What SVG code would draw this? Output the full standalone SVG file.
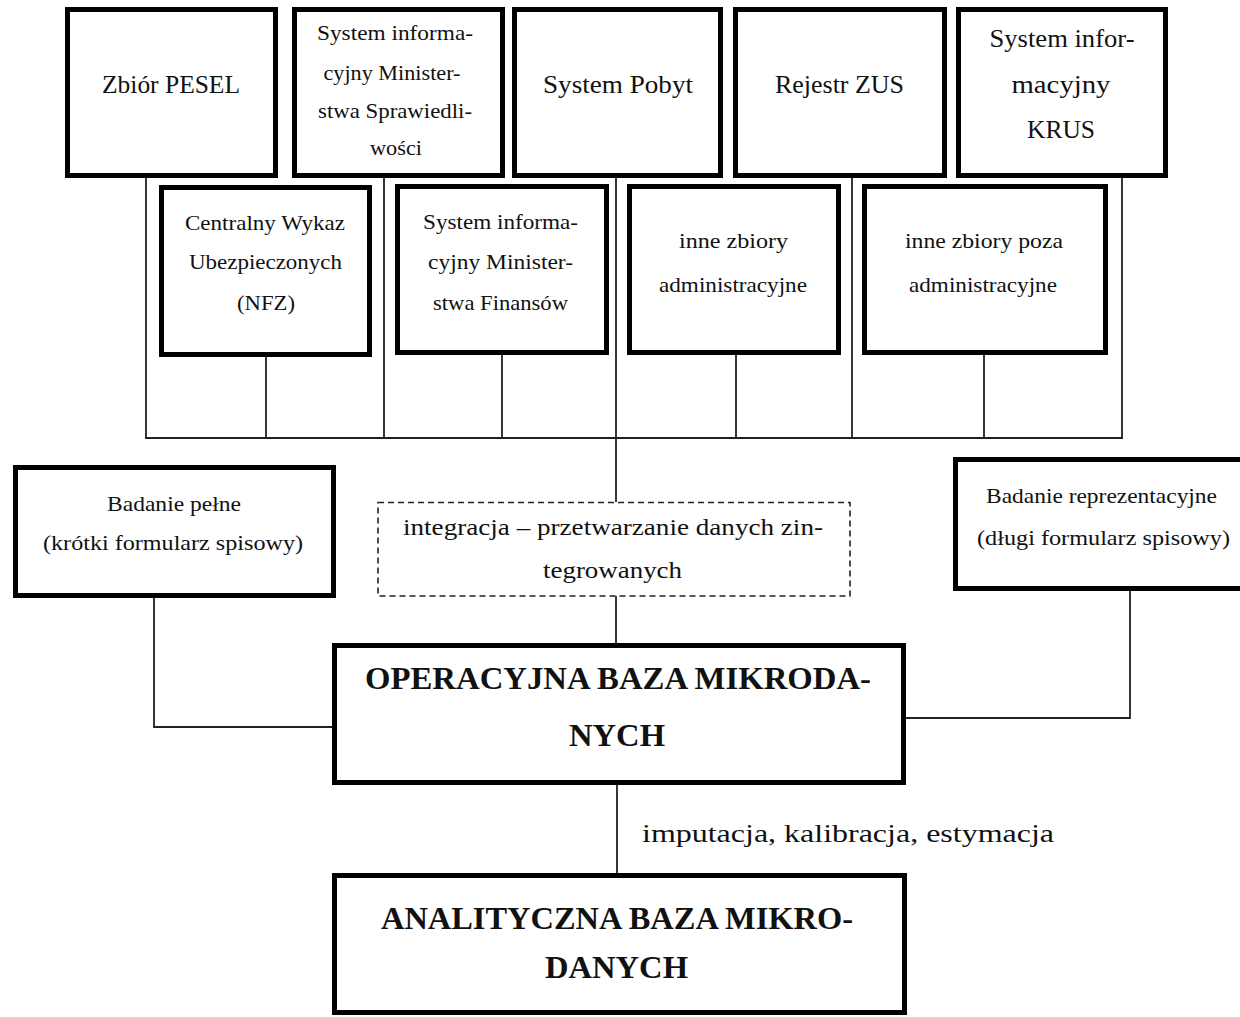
<svg xmlns="http://www.w3.org/2000/svg" width="1240" height="1017" viewBox="0 0 1240 1017" font-family="'Liberation Serif', 'Times New Roman', Times, serif">
<style>
.box{fill:#fff;stroke:#000;stroke-width:5}
.dash{fill:#fff;stroke:#222;stroke-width:1.6;stroke-dasharray:6 4}
.ln{fill:none;stroke:#222;stroke-width:1.8}
.t{font-family:'Liberation Serif','Times New Roman',Times,serif;fill:#111;text-anchor:middle}
.a{font-size:25px}
.b{font-size:21px}
.c{font-size:21px}
.d{font-size:24px}
.e{font-size:32px;font-weight:bold}
.f{font-size:25px;text-anchor:start}
</style>
<rect width="1240" height="1017" fill="#fff"/>
<g id="connectors">
<line class="ln" x1="146" y1="178" x2="146" y2="438"/>
<line class="ln" x1="384" y1="178" x2="384" y2="438"/>
<line class="ln" x1="616" y1="178" x2="616" y2="502"/>
<line class="ln" x1="852" y1="178" x2="852" y2="438"/>
<line class="ln" x1="1122" y1="178" x2="1122" y2="438"/>
<line class="ln" x1="266" y1="357" x2="266" y2="438"/>
<line class="ln" x1="502" y1="355" x2="502" y2="438"/>
<line class="ln" x1="736" y1="355" x2="736" y2="438"/>
<line class="ln" x1="984" y1="355" x2="984" y2="438"/>
<line class="ln" x1="145" y1="438" x2="1123" y2="438"/>
<line class="ln" x1="616" y1="596" x2="616" y2="643"/>
<polyline class="ln" points="154,598 154,727 332,727"/>
<polyline class="ln" points="1130,591 1130,718 906,718"/>
<line class="ln" x1="617" y1="785" x2="617" y2="873"/>
</g>
<g id="pesel">
<rect class="box" x="67.5" y="9.5" width="208" height="166"/>
<text class="t a" x="171" y="93" textLength="138" lengthAdjust="spacingAndGlyphs">Zbiór PESEL</text>
</g>
<g id="ms">
<rect class="box" x="294.5" y="9.5" width="208" height="166"/>
<text class="t b" x="395" y="40" textLength="156" lengthAdjust="spacingAndGlyphs">System informa-</text>
<text class="t b" x="392" y="80" textLength="137" lengthAdjust="spacingAndGlyphs">cyjny Minister-</text>
<text class="t b" x="395" y="118" textLength="154" lengthAdjust="spacingAndGlyphs">stwa Sprawiedli-</text>
<text class="t b" x="396" y="155" textLength="52" lengthAdjust="spacingAndGlyphs">wości</text>
</g>
<g id="pobyt">
<rect class="box" x="514.5" y="9.5" width="206" height="166"/>
<text class="t a" x="618" y="93" textLength="150" lengthAdjust="spacingAndGlyphs">System Pobyt</text>
</g>
<g id="zus">
<rect class="box" x="735.5" y="9.5" width="209" height="166"/>
<text class="t a" x="839.5" y="93" textLength="129" lengthAdjust="spacingAndGlyphs">Rejestr ZUS</text>
</g>
<g id="krus">
<rect class="box" x="958.5" y="9.5" width="207" height="166"/>
<text class="t a" x="1062" y="47" textLength="145" lengthAdjust="spacingAndGlyphs">System infor-</text>
<text class="t a" x="1061" y="93" textLength="99" lengthAdjust="spacingAndGlyphs">macyjny</text>
<text class="t a" x="1061" y="138" textLength="68" lengthAdjust="spacingAndGlyphs">KRUS</text>
</g>
<g id="cwu">
<rect class="box" x="161.5" y="187.5" width="208" height="167"/>
<text class="t c" x="265" y="230" textLength="160" lengthAdjust="spacingAndGlyphs">Centralny Wykaz</text>
<text class="t c" x="265.5" y="269" textLength="153" lengthAdjust="spacingAndGlyphs">Ubezpieczonych</text>
<text class="t c" x="266" y="310" textLength="58" lengthAdjust="spacingAndGlyphs">(NFZ)</text>
</g>
<g id="mf">
<rect class="box" x="397.5" y="186.5" width="209" height="166"/>
<text class="t c" x="500.5" y="229" textLength="155" lengthAdjust="spacingAndGlyphs">System informa-</text>
<text class="t c" x="500.5" y="269" textLength="145" lengthAdjust="spacingAndGlyphs">cyjny Minister-</text>
<text class="t c" x="500.5" y="310" textLength="135" lengthAdjust="spacingAndGlyphs">stwa Finansów</text>
</g>
<g id="inne">
<rect class="box" x="629.5" y="186.5" width="209" height="166"/>
<text class="t c" x="733.5" y="248" textLength="109" lengthAdjust="spacingAndGlyphs">inne zbiory</text>
<text class="t c" x="733" y="292" textLength="148" lengthAdjust="spacingAndGlyphs">administracyjne</text>
</g>
<g id="inne-poza">
<rect class="box" x="864.5" y="186.5" width="241" height="166"/>
<text class="t c" x="984" y="248" textLength="158" lengthAdjust="spacingAndGlyphs">inne zbiory poza</text>
<text class="t c" x="983" y="292" textLength="148" lengthAdjust="spacingAndGlyphs">administracyjne</text>
</g>
<g id="badanie-pelne">
<rect class="box" x="15.5" y="467.5" width="318" height="128"/>
<text class="t c" x="174" y="511" textLength="134" lengthAdjust="spacingAndGlyphs">Badanie pełne</text>
<text class="t c" x="173" y="550" textLength="260" lengthAdjust="spacingAndGlyphs">(krótki formularz spisowy)</text>
</g>
<g id="integracja">
<rect class="dash" x="378" y="502.5" width="472" height="93.5"/>
<text class="t d" x="613" y="535" textLength="420" lengthAdjust="spacingAndGlyphs">integracja – przetwarzanie danych zin-</text>
<text class="t d" x="612.5" y="578" textLength="139" lengthAdjust="spacingAndGlyphs">tegrowanych</text>
</g>
<g id="badanie-repr">
<rect class="box" x="955.5" y="459.5" width="300" height="129"/>
<text class="t c" x="1101.5" y="503" textLength="231" lengthAdjust="spacingAndGlyphs">Badanie reprezentacyjne</text>
<text class="t c" x="1103.5" y="545" textLength="253" lengthAdjust="spacingAndGlyphs">(długi formularz spisowy)</text>
</g>
<g id="operacyjna">
<rect class="box" x="334.5" y="645.5" width="569" height="137"/>
<text class="t e" x="618" y="689" textLength="506" lengthAdjust="spacingAndGlyphs">OPERACYJNA BAZA MIKRODA-</text>
<text class="t e" x="617" y="746" textLength="96" lengthAdjust="spacingAndGlyphs">NYCH</text>
</g>
<g id="label">
<text class="t f" x="642" y="842" textLength="412" lengthAdjust="spacingAndGlyphs">imputacja, kalibracja, estymacja</text>
</g>
<g id="analityczna">
<rect class="box" x="334.5" y="875.5" width="570" height="137"/>
<text class="t e" x="617" y="929" textLength="472" lengthAdjust="spacingAndGlyphs">ANALITYCZNA BAZA MIKRO-</text>
<text class="t e" x="616.5" y="978" textLength="143" lengthAdjust="spacingAndGlyphs">DANYCH</text>
</g>
</svg>
